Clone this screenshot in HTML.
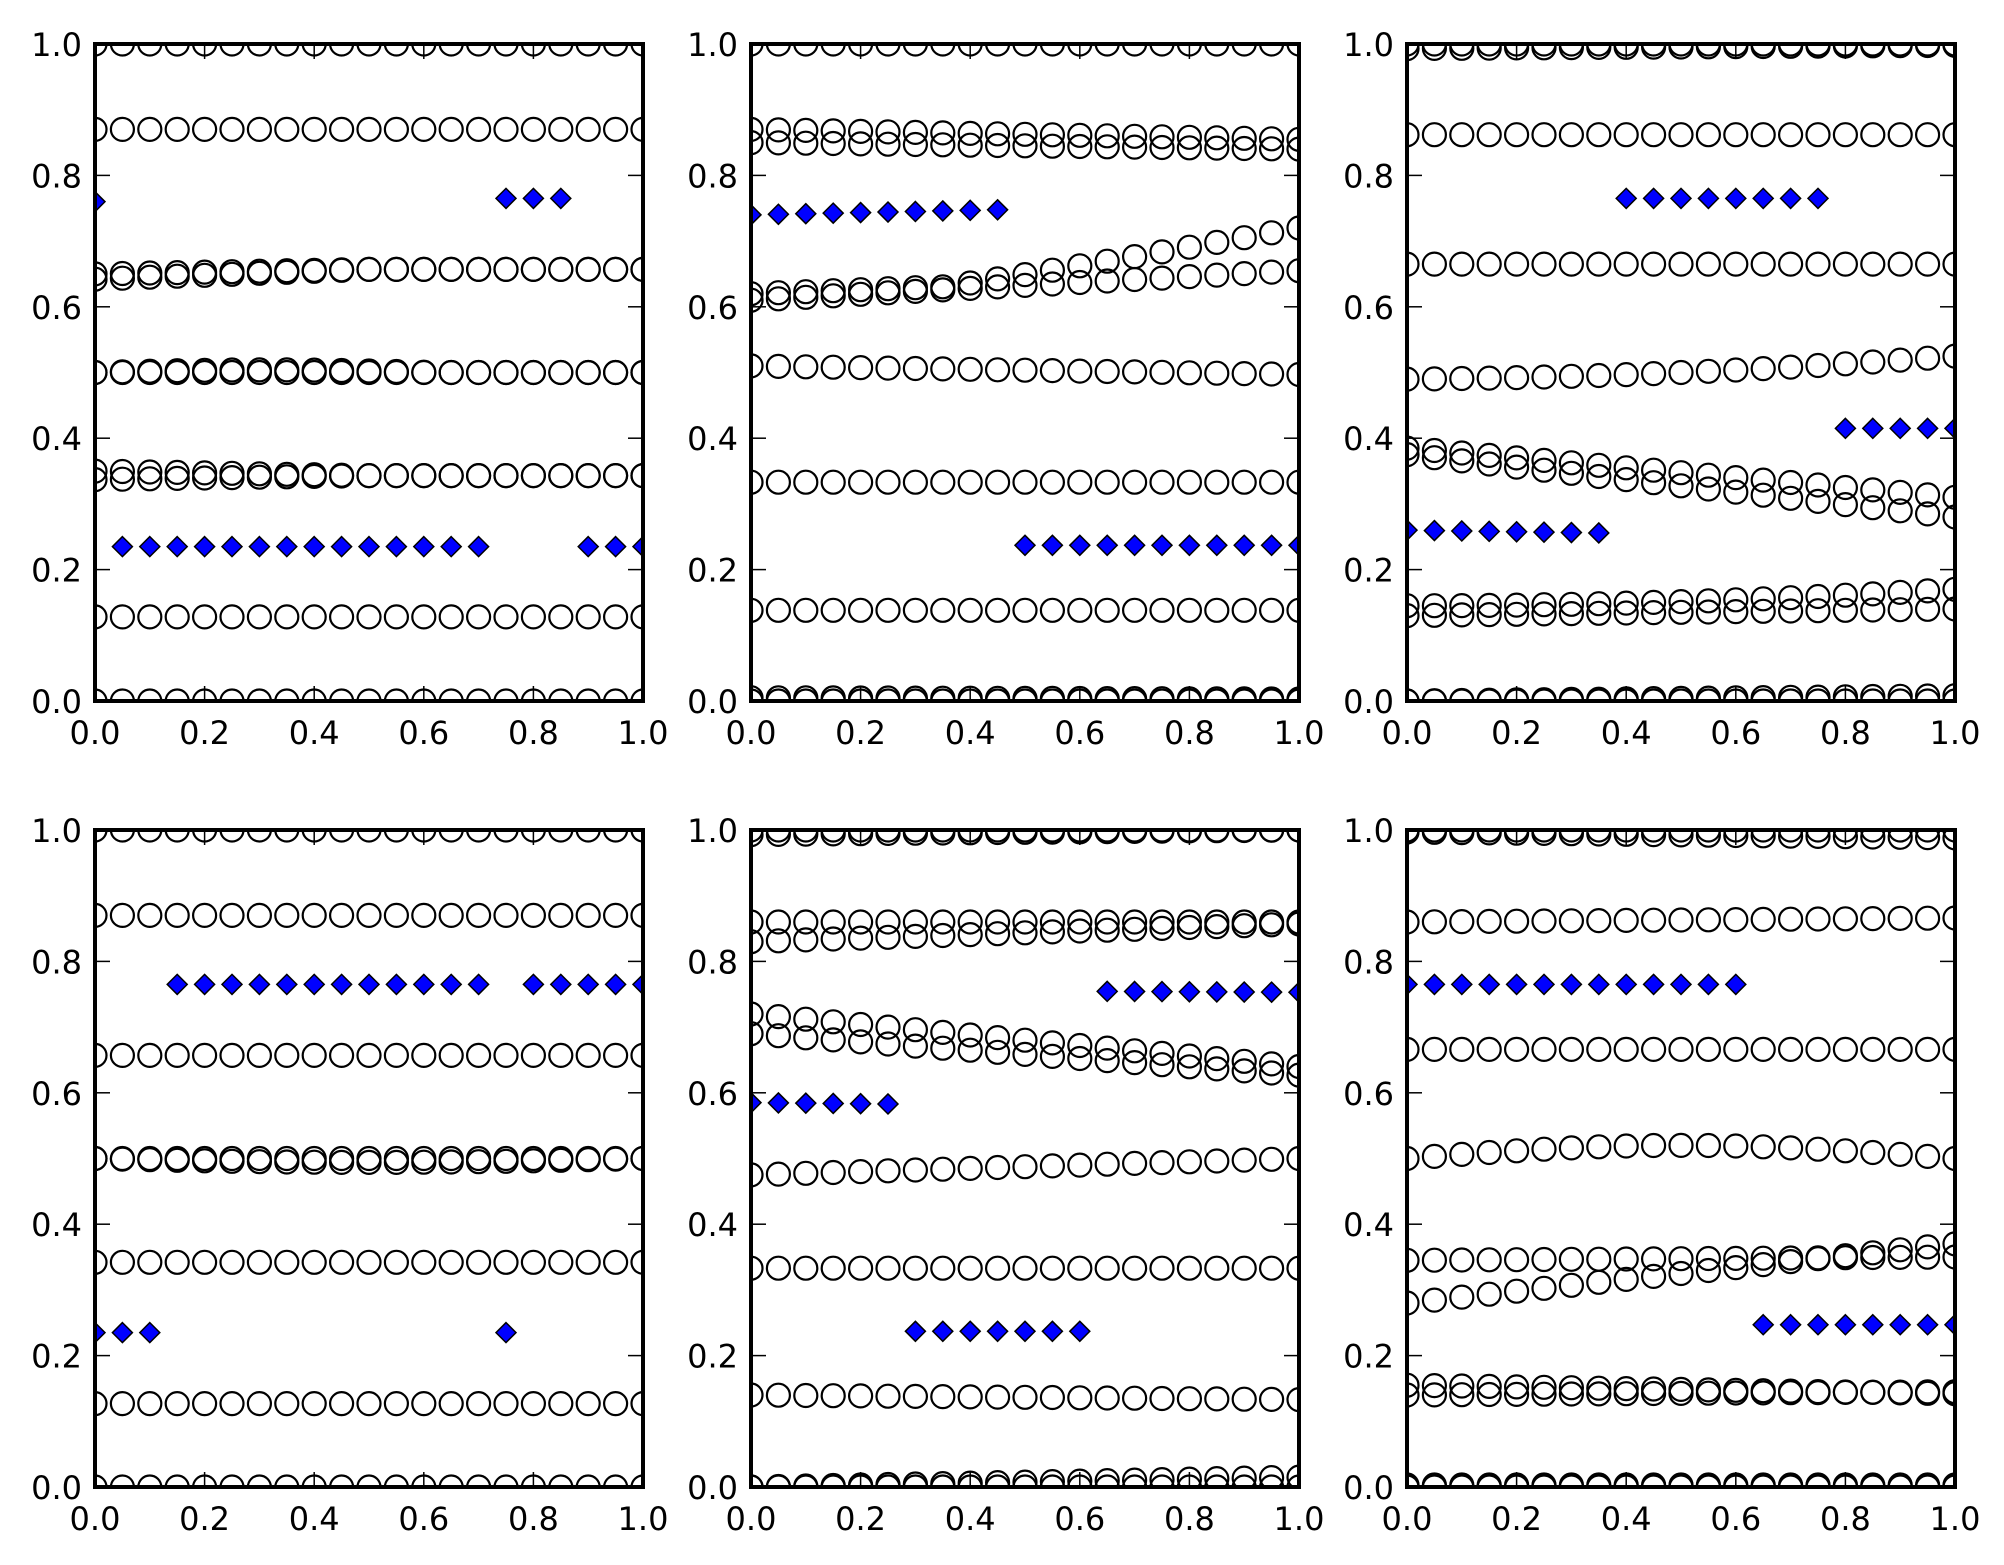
<!DOCTYPE html>
<html><head><meta charset="utf-8"><style>
html,body{margin:0;padding:0;background:#fff;}
svg{display:block;}
text{font-family:"DejaVu Sans","Liberation Sans",sans-serif;font-size:32px;fill:#000;}
</style></head><body>
<svg id="s" width="2004" height="1565" xmlns="http://www.w3.org/2000/svg"></svg>
<script>
const S=document.getElementById('s');
const W=548,H=657;
const lefts=[95,751,1407], tops=[44,830];
const xs=[];for(let i=0;i<=20;i++)xs.push(i*0.05);
function lin(a,b){return x=>a+(b-a)*x;}
function c(v){return x=>v;}
const P=[
 {c:[c(1),c(0),c(0.87),x=>x<0.5?0.65+0.014*x:0.657,x=>x<0.5?0.642+0.03*x:0.657,c(0.5),x=>0.5+0.004*Math.sin(Math.PI*Math.min(1,x*1.6)),x=>x<0.5?0.35-0.014*x:0.343,x=>x<0.5?0.337+0.012*x:0.343,c(0.128)],
  d:[[0,0,c(0.76)],[0.75,0.85,c(0.765)],[0.05,0.70,c(0.235)],[0.9,1.0,c(0.235)]]},
 {c:[c(1),c(0),lin(0.005,0.003),lin(0.87,0.855),lin(0.85,0.84),x=>0.62+0.03*x+0.07*Math.max(0,(x-0.35)/0.65)**1.1,lin(0.61,0.655),lin(0.51,0.497),c(0.333),c(0.138)],
  d:[[0,0.45,lin(0.74,0.757)],[0.5,1.0,c(0.237)]]},
 {c:[c(1),lin(0.993,0.998),c(0),lin(0.0,0.008),c(0.862),c(0.665),x=>0.49+0.03*x*x+0.005*x,lin(0.385,0.31),x=>0.375-0.095*x,x=>0.145+0.025*x*x,lin(0.13,0.14)],
  d:[[0,0.35,lin(0.26,0.248)],[0.4,0.75,c(0.765)],[0.8,1.0,c(0.415)]]},
 {c:[c(1),c(0),c(0.87),c(0.657),c(0.5),x=>0.5-0.006*Math.sin(Math.PI*x),c(0.342),c(0.127)],
  d:[[0,0.1,c(0.235)],[0.15,0.7,c(0.765)],[0.8,1.0,c(0.765)],[0.75,0.75,c(0.235)]]},
 {c:[c(1),lin(0.993,1.0),c(0),lin(0.0,0.015),c(0.86),lin(0.83,0.857),lin(0.72,0.64),lin(0.69,0.627),lin(0.475,0.5),c(0.333),lin(0.14,0.133)],
  d:[[0,0.25,lin(0.585,0.577)],[0.3,0.6,c(0.237)],[0.65,1.0,lin(0.757,0.753)]]},
 {c:[c(1),lin(0.997,0.988),c(0),c(0.003),lin(0.86,0.866),c(0.666),x=>0.5+0.02*Math.sin(Math.PI*x),lin(0.345,0.35),lin(0.28,0.37),lin(0.155,0.142),lin(0.14,0.145)],
  d:[[0,0.6,c(0.765)],[0.65,1.0,c(0.247)]]}
];
let h='';
P.forEach((p,i)=>{
 const L=lefts[i%3],T=tops[Math.floor(i/3)];
 const X=x=>L+W*x, Y=y=>T+H-H*y;
 h+=`<clipPath id="cp${i}"><rect x="${L}" y="${T}" width="${W}" height="${H}"/></clipPath><g clip-path="url(#cp${i})">`;
 p.c.forEach(f=>xs.forEach(x=>{h+=`<circle cx="${X(x).toFixed(1)}" cy="${Y(f(x)).toFixed(1)}" r="11.5" fill="none" stroke="#000" stroke-width="2.2"/>`;}));
 p.d.forEach(([a,b,f])=>xs.forEach(x=>{if(x<a-1e-9||x>b+1e-9)return;const cx=X(x),cy=Y(f(x));h+=`<polygon points="${cx},${cy-10} ${cx+10},${cy} ${cx},${cy+10} ${cx-10},${cy}" fill="#0000ff" stroke="#000" stroke-width="1.5"/>`;}));
 h+='</g>';
 for(let k=0;k<=5;k++){const v=k*0.2;const tx=X(v),ty=Y(v);
  h+=`<line x1="${tx}" y1="${T+H}" x2="${tx}" y2="${T+H-15}" stroke="#000" stroke-width="1.5"/><line x1="${tx}" y1="${T}" x2="${tx}" y2="${T+15}" stroke="#000" stroke-width="1.5"/>`;
  h+=`<line x1="${L}" y1="${ty}" x2="${L+15}" y2="${ty}" stroke="#000" stroke-width="1.5"/><line x1="${L+W}" y1="${ty}" x2="${L+W-15}" y2="${ty}" stroke="#000" stroke-width="1.5"/>`;
  h+=`<text x="${tx}" y="${T+H+43}" text-anchor="middle">${v.toFixed(1)}</text>`;
  h+=`<text x="${L-13}" y="${ty+12}" text-anchor="end">${v.toFixed(1)}</text>`;
 }
 h+=`<rect x="${L}" y="${T}" width="${W}" height="${H}" fill="none" stroke="#000" stroke-width="4"/>`;
});
S.innerHTML=h;
</script>
</body></html>
